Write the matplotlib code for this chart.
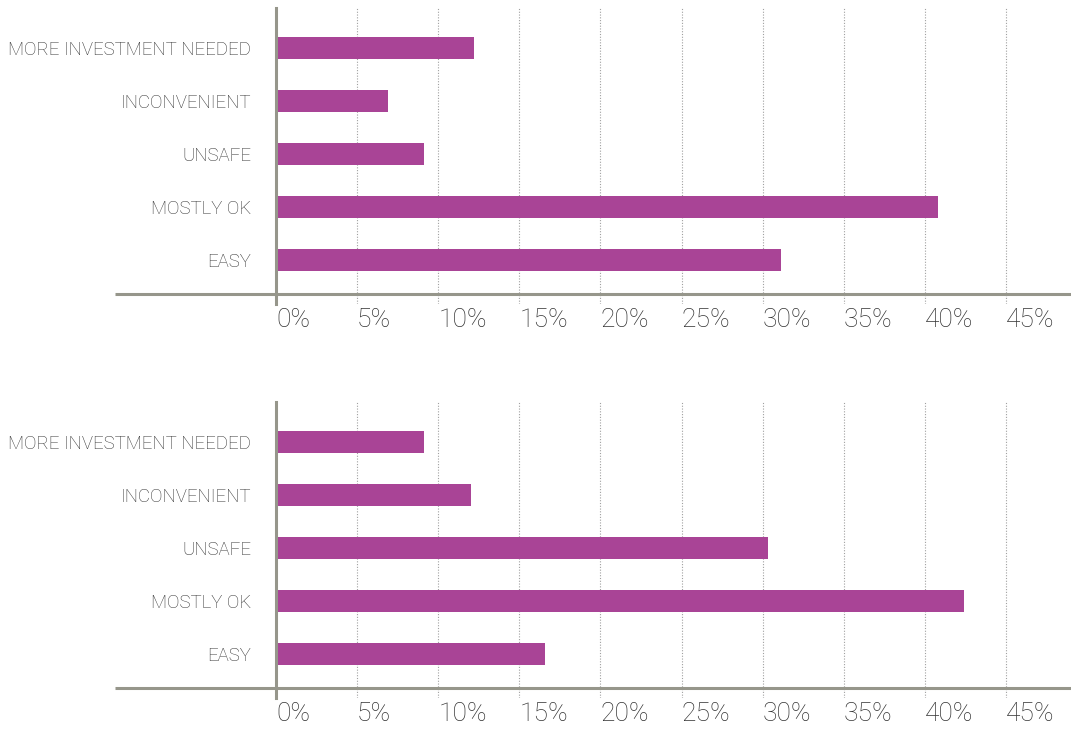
import numpy as np
import matplotlib.pyplot as plt
import matplotlib.ticker as mticker

plt.rcParams['font.family'] = ['Roboto', 'DejaVu Sans']

# --- data ---
categories = ['EASY', 'MOSTLY OK', 'UNSAFE', 'INCONVENIENT', 'MORE INVESTMENT NEEDED']
top_values = [31.1, 40.8, 9.1, 6.9, 12.2]
bottom_values = [16.6, 42.4, 30.3, 12.0, 9.1]
xticks = [0, 5, 10, 15, 20, 25, 30, 35, 40, 45]

bar_color = '#a94496'
axis_color = '#96968b'
text_color = '#333333'

fig = plt.figure(figsize=(10.71, 7.31), dpi=100)

positions = [[0.2577, 0.5841, 0.7423, 0.4049],
             [0.2577, 0.0451, 0.7423, 0.4049]]

for pos, values in zip(positions, [top_values, bottom_values]):
    ax = fig.add_axes(pos)
    y = np.arange(len(categories))
    ax.barh(y, values, height=0.42, color=bar_color, zorder=3)

    ax.set_xlim(0, 49)
    ax.set_ylim(-0.83, 4.755)

    # dotted vertical gridlines
    for t in xticks[1:]:
        ax.axvline(t, color='#a0a0a0', linestyle=(0, (1, 1.5)), linewidth=0.8, zorder=1)

    # baseline running out to the left of the axis
    ax.plot([-9.9, 49], [-0.64, -0.64], color=axis_color, linewidth=2.2,
            clip_on=False, zorder=4, solid_capstyle='butt')

    for side in ['top', 'right', 'bottom']:
        ax.spines[side].set_visible(False)
    ax.spines['left'].set_color(axis_color)
    ax.spines['left'].set_linewidth(2.2)
    ax.spines['left'].set_zorder(5)

    ax.set_yticks(y)
    ax.set_yticklabels(categories, fontsize=13.4, color=text_color, fontweight='light')
    ax.tick_params(axis='y', length=0, pad=18)

    ax.set_xticks(xticks)
    ax.xaxis.set_major_formatter(mticker.StrMethodFormatter('{x:.0f}%'))
    ax.tick_params(axis='x', length=0, pad=3, labelsize=19, labelcolor=text_color)
    for lbl in ax.get_xticklabels():
        lbl.set_horizontalalignment('left')
        lbl.set_fontweight('light')

fig.savefig('out.png', dpi=100)
